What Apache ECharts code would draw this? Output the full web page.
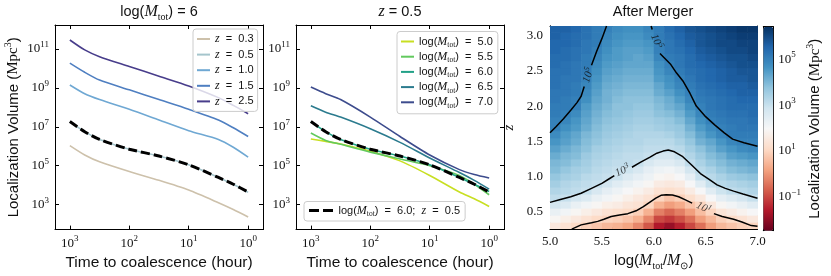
<!DOCTYPE html>
<html><head><meta charset="utf-8">
<script src="https://cdn.jsdelivr.net/npm/echarts@6/dist/echarts.min.js"></script>
<style>html,body{margin:0;padding:0;background:#fff}#c{width:831px;height:276px}</style>
</head><body><div id="c"></div>
<script>
const SANS = '"Liberation Sans", Arial, sans-serif';
const SERIF = '"Liberation Serif", "Times New Roman", serif';

// ---------------- data ----------------
// log10 of time to coalescence (hour)
const logTime = [3, 2.75, 2.5, 2, 1.5, 1, 0.5, 0.25, 0];
// panel 1: log(M_tot)=6, several redshifts ; values are log10(volume / Mpc^3)
const zNames = ['z = 0.3', 'z = 0.5', 'z = 1.0', 'z = 1.5', 'z = 2.5'];
const volZ03 = [6.03, 5.55, 5.2, 4.7, 4.25, 3.75, 3.1, 2.75, 2.37];
const volZ05 = [7.27, 6.75, 6.35, 5.85, 5.5, 5.05, 4.4, 4.05, 3.63];
const volZ10 = [9.15, 8.7, 8.4, 7.9, 7.35, 6.8, 6.35, 5.95, 5.44];
const volZ15 = [10.27, 9.8, 9.4, 8.9, 8.4, 7.9, 7.35, 6.95, 6.5];
const volZ25 = [11.46, 10.95, 10.6, 10.1, 9.6, 9.1, 8.5, 8.1, 7.67];
// reference curve log(M_tot)=6, z=0.5
const volRef = [7.27, 6.75, 6.35, 5.85, 5.5, 5.05, 4.4, 4.05, 3.65];
// panel 2: z=0.5, several masses
const mNames = ['5.0', '5.5', '6.0', '6.5', '7.0'];
const volM50 = [6.37, 6.25, 6.12, 5.75, 5.25, 4.5, 3.65, 3.3, 2.91];
const volM55 = [6.68, 6.3, 6.1, 5.7, 5.35, 5.0, 4.5, 4.05, 3.51];
const volM60 = [7.27, 6.75, 6.35, 5.85, 5.5, 5.05, 4.4, 4.05, 3.68];
const volM65 = [8.08, 7.75, 7.5, 6.9, 6.2, 5.4, 4.65, 4.25, 3.8];
const volM70 = [9.04, 8.7, 8.4, 7.5, 6.5, 5.55, 4.8, 4.55, 4.37];
// tick labels
const timeTicks = [0, 1, 2, 3];
const volTicks = [3, 5, 7, 9, 11];
const zTicks = [0.5, 1.0, 1.5, 2.0, 2.5, 3.0];
const zMinorTicks = [0.3, 0.4, 0.6, 0.7, 0.8, 0.9, 1.1, 1.2, 1.3, 1.4, 1.6, 1.7, 1.8, 1.9, 2.1, 2.2, 2.3, 2.4, 2.6, 2.7, 2.8, 2.9, 3.1];
const cbarTicks = [-1, 1, 3, 5];
// panel 3 heatmap: cell centres and log10(volume)
const massCenters = [5.05, 5.15, 5.25, 5.35, 5.45, 5.55, 5.65, 5.75, 5.85, 5.95, 6.05, 6.15, 6.25, 6.35, 6.45, 6.55, 6.65, 6.75, 6.85, 6.95];
const zCenters = [0.3, 0.4, 0.5, 0.6, 0.7, 0.8, 0.9, 1.0, 1.1, 1.2, 1.3, 1.4, 1.5, 1.6, 1.7, 1.8, 1.9, 2.0, 2.1, 2.2, 2.3, 2.4, 2.5, 2.6, 2.7, 2.8, 2.9, 3.0, 3.1];
const logVolGrid = [
[1.5,1.3,1.1,0.9,0.7,0.5,0.4,0.2,-0.2,-0.8,-1.6,-1.9,-1.5,-1.0,-0.5,0.1,0.5,0.7,0.9,1.0],
[1.9,1.7,1.5,1.3,1.1,1.0,0.9,0.7,0.4,-0.2,-1.0,-1.2,-0.9,-0.5,0.1,0.5,0.9,1.1,1.3,1.5],
[2.3,2.1,1.9,1.7,1.5,1.3,1.2,1.1,0.9,0.4,-0.3,-0.6,-0.3,0.1,0.6,1.0,1.4,1.6,1.8,2.0],
[2.8,2.6,2.3,2.1,1.9,1.7,1.6,1.4,1.3,1.0,0.4,0.1,0.3,0.7,1.0,1.5,1.9,2.1,2.3,2.5],
[3.1,3.0,2.8,2.6,2.3,2.1,1.9,1.7,1.5,1.3,1.0,0.7,0.9,1.2,1.5,2.0,2.4,2.6,2.8,3.0],
[3.3,3.2,3.1,3.0,2.7,2.4,2.2,2.0,1.8,1.6,1.3,1.2,1.3,1.6,2.0,2.5,2.9,3.1,3.2,3.3],
[3.5,3.3,3.2,3.1,3.0,2.8,2.5,2.3,2.1,1.9,1.6,1.5,1.6,2.0,2.5,3.0,3.2,3.3,3.4,3.5],
[3.7,3.5,3.4,3.2,3.1,3.0,2.9,2.6,2.4,2.2,1.9,1.8,2.0,2.4,3.0,3.2,3.4,3.6,3.7,3.8],
[3.9,3.7,3.5,3.4,3.2,3.1,3.0,2.9,2.7,2.4,2.2,2.1,2.3,2.8,3.2,3.4,3.7,3.9,4.0,4.1],
[4.0,3.9,3.7,3.5,3.3,3.2,3.1,3.1,3.0,2.7,2.5,2.5,2.7,3.1,3.4,3.7,3.9,4.1,4.2,4.3],
[4.2,4.0,3.9,3.6,3.4,3.3,3.2,3.1,3.1,3.0,2.8,2.8,3.0,3.3,3.6,3.9,4.1,4.4,4.5,4.6],
[4.4,4.2,4.0,3.8,3.5,3.4,3.3,3.2,3.2,3.1,3.1,3.1,3.2,3.5,3.8,4.1,4.4,4.6,4.8,4.9],
[4.6,4.4,4.2,3.9,3.7,3.5,3.4,3.3,3.3,3.2,3.2,3.2,3.4,3.7,4.1,4.3,4.6,4.9,5.0,5.0],
[4.8,4.5,4.3,4.0,3.8,3.6,3.5,3.4,3.3,3.3,3.3,3.4,3.6,3.9,4.3,4.6,4.9,5.1,5.1,5.1],
[5.0,4.7,4.5,4.2,3.9,3.7,3.6,3.5,3.4,3.4,3.5,3.6,3.7,4.1,4.5,4.8,5.0,5.1,5.2,5.2],
[5.0,4.9,4.6,4.3,4.0,3.8,3.7,3.6,3.5,3.5,3.6,3.7,3.9,4.3,4.7,5.0,5.1,5.2,5.2,5.3],
[5.1,5.0,4.8,4.4,4.1,3.9,3.8,3.7,3.6,3.6,3.8,3.9,4.1,4.5,4.9,5.1,5.2,5.3,5.3,5.4],
[5.1,5.1,5.0,4.5,4.2,4.0,3.8,3.8,3.7,3.7,3.9,4.1,4.3,4.7,5.0,5.2,5.3,5.4,5.4,5.4],
[5.2,5.1,5.0,4.7,4.3,4.1,3.9,3.8,3.8,3.8,4.0,4.2,4.5,4.9,5.1,5.2,5.3,5.4,5.5,5.5],
[5.2,5.2,5.1,4.8,4.4,4.1,4.0,3.9,3.9,3.9,4.2,4.4,4.7,5.0,5.2,5.3,5.4,5.5,5.6,5.6],
[5.3,5.2,5.1,4.9,4.5,4.2,4.1,4.0,4.0,4.0,4.3,4.6,4.9,5.1,5.3,5.4,5.5,5.6,5.6,5.7],
[5.3,5.2,5.2,5.0,4.6,4.3,4.2,4.1,4.1,4.1,4.5,4.7,5.0,5.2,5.4,5.5,5.6,5.7,5.7,5.8],
[5.3,5.3,5.2,5.1,4.7,4.4,4.3,4.2,4.2,4.2,4.6,4.9,5.1,5.3,5.4,5.5,5.6,5.7,5.8,5.8],
[5.4,5.3,5.2,5.1,4.8,4.5,4.4,4.3,4.3,4.3,4.7,5.0,5.2,5.4,5.5,5.6,5.7,5.8,5.9,5.9],
[5.4,5.4,5.3,5.1,4.9,4.6,4.5,4.4,4.3,4.4,4.9,5.1,5.2,5.4,5.6,5.7,5.8,5.9,5.9,6.0],
[5.5,5.4,5.3,5.2,5.0,4.7,4.5,4.4,4.4,4.5,5.0,5.2,5.3,5.5,5.7,5.8,5.9,6.0,6.0,6.1],
[5.5,5.5,5.4,5.2,5.1,4.8,4.6,4.5,4.5,4.6,5.0,5.2,5.4,5.6,5.8,5.9,6.0,6.0,6.1,6.1],
[5.6,5.5,5.4,5.3,5.1,4.9,4.7,4.6,4.6,4.8,5.1,5.3,5.5,5.7,5.8,5.9,6.0,6.1,6.2,6.2],
[5.6,5.6,5.5,5.3,5.1,5.0,4.8,4.7,4.7,4.9,5.1,5.4,5.6,5.8,5.9,6.0,6.1,6.2,6.3,6.3]
];
// contour lines [log M, z]
const contour5LeftA = [[5.0,1.62],[5.06,1.71],[5.13,1.82],[5.2,1.94],[5.26,2.05],[5.30,2.14],[5.33,2.28]];
const contour5LeftB = [[5.40,2.58],[5.45,2.78],[5.50,2.96],[5.545,3.14]];
const contour5RightA = [[5.975,3.14],[5.985,3.09]];
const contour5RightB = [[6.06,2.75],[6.16,2.60],[6.22,2.47],[6.285,2.35],[6.35,2.18],[6.41,2.0],[6.5,1.85],[6.59,1.73],[6.68,1.62],[6.76,1.53],[6.87,1.48],[7.0,1.43]];
const contour3A = [[5.0,0.63],[5.1,0.67],[5.2,0.71],[5.3,0.76],[5.4,0.83],[5.5,0.90],[5.575,0.97],[5.62,1.01]];
const contour3B = [[5.79,1.13],[5.87,1.20],[5.96,1.27],[6.03,1.33],[6.09,1.36],[6.14,1.375],[6.2,1.35],[6.28,1.28],[6.36,1.17],[6.45,1.04],[6.53,0.96],[6.61,0.88],[6.69,0.83],[6.77,0.79],[6.86,0.75],[7.0,0.69]];
const contour1A = [[5.21,0.25],[5.3,0.31],[5.4,0.34],[5.46,0.36],[5.52,0.39],[5.59,0.43],[5.67,0.45],[5.75,0.47],[5.83,0.51],[5.9,0.57],[5.96,0.63],[6.02,0.69],[6.07,0.73],[6.12,0.74],[6.18,0.735],[6.24,0.71],[6.3,0.67],[6.37,0.62]];
const contour1B = [[6.58,0.47],[6.66,0.43],[6.77,0.39],[6.85,0.35],[6.94,0.30],[7.0,0.29]];
const contourLabelPos = [[5.37,2.44],[6.025,2.92],[5.70,1.08],[6.48,0.55]];
const contourLabelExp = ['5', '5', '3', '1'];
const contourLabelAngle = [72, -66, 25, -26];

// ---------------- styles ----------------
const zColors = ['#cdc1ab', '#a5c5cc', '#6fa8d3', '#4f7fc1', '#483d8b'];
const mColors = ['#c8df22', '#62c95e', '#22a187', '#2b7b8e', '#3d4c8d'];
const rdbu = ['#67001f','#b2182b','#d6604d','#f4a582','#fddbc7','#f7f7f7','#d1e5f0','#92c5de','#4393c3','#2166ac','#053061'];

const supRich = {
  b: {fontFamily: SERIF, fontSize: 13, lineHeight: 18, color: '#111'},
  s: {fontFamily: SERIF, fontSize: 9, lineHeight: 9, verticalAlign: 'top', color: '#111'}
};
function logLabel(v) { return '{b|10}{s|' + (v < 0 ? '\u2212' + (-v) : v) + '}'; }
const lineAx = {show: true, onZero: false, lineStyle: {color: '#000', width: 1}};
const tickSt = {color: '#000', width: 1};

function ax(extra) {
  return Object.assign({type: 'value', splitLine: {show: false}, axisLine: lineAx}, extra);
}

const xAxis = [
  ax({gridIndex: 0, position: 'bottom', min: -0.25, max: 3.25, inverse: true,
      axisTick: {inside: true, length: 4, customValues: timeTicks, lineStyle: tickSt},
      axisLabel: {customValues: timeTicks, formatter: logLabel, rich: supRich, margin: 5},
      name: 'Time to coalescence (hour)', nameLocation: 'middle', nameGap: 23,
      nameTextStyle: {fontFamily: SANS, fontSize: 15.5, color: '#111'}}),
  ax({gridIndex: 0, position: 'top', min: -0.25, max: 3.25, inverse: true,
      axisTick: {inside: true, length: 4, customValues: timeTicks, lineStyle: tickSt}, axisLabel: {show: false}}),
  ax({gridIndex: 1, position: 'bottom', min: -0.25, max: 3.25, inverse: true,
      axisTick: {inside: true, length: 4, customValues: timeTicks, lineStyle: tickSt},
      axisLabel: {customValues: timeTicks, formatter: logLabel, rich: supRich, margin: 5},
      name: 'Time to coalescence (hour)', nameLocation: 'middle', nameGap: 23,
      nameTextStyle: {fontFamily: SANS, fontSize: 15.5, color: '#111'}}),
  ax({gridIndex: 1, position: 'top', min: -0.25, max: 3.25, inverse: true,
      axisTick: {inside: true, length: 4, customValues: timeTicks, lineStyle: tickSt}, axisLabel: {show: false}}),
  ax({gridIndex: 2, position: 'bottom', min: 5, max: 7, interval: 0.5,
      axisTick: {inside: true, length: 4, lineStyle: tickSt},
      minorTick: {show: true, splitNumber: 5, length: 2, lineStyle: tickSt},
      axisLabel: {formatter: v => v.toFixed(1), fontFamily: SERIF, fontSize: 13, color: '#111', margin: 6},
      name: '{s|log(}{mi|M}{sub|tot}{s|/}{mi|M}{sub|\u2299}{s|)}', nameLocation: 'middle', nameGap: 21,
      nameTextStyle: {fontFamily: SANS, fontSize: 15, color: '#111', rich: {
        s: {fontFamily: SANS, fontSize: 15, lineHeight: 20, color: '#111'},
        mi: {fontFamily: SERIF, fontStyle: 'italic', fontSize: 16, lineHeight: 20, color: '#111'},
        sub: {fontFamily: SERIF, fontSize: 10, lineHeight: 11, verticalAlign: 'bottom', color: '#111'}}}}),
  ax({gridIndex: 2, position: 'top', min: 5, max: 7, interval: 0.5,
      axisTick: {inside: true, length: 4, lineStyle: tickSt}, axisLabel: {show: false}}),
  ax({gridIndex: 3, position: 'bottom', min: 0, max: 1, axisTick: {show: false}, axisLabel: {show: false}}),
  ax({gridIndex: 3, position: 'top', min: 0, max: 1, axisTick: {show: false}, axisLabel: {show: false}})
];

const volNameRich = {
  m: {fontFamily: SERIF, fontSize: 15, lineHeight: 20, color: '#111'},
  s: {fontFamily: SERIF, fontSize: 10, lineHeight: 10, verticalAlign: 'top', color: '#111'}
};
const yAxis = [
  ax({gridIndex: 0, position: 'left', min: 1.72, max: 12.23,
      axisTick: {inside: true, length: 4, customValues: volTicks, lineStyle: tickSt},
      axisLabel: {customValues: volTicks, formatter: logLabel, rich: supRich, margin: 6},
      name: 'Localization Volume ({m|Mpc}{s|3})', nameLocation: 'middle', nameGap: 30, nameRotate: 90,
      nameTextStyle: {fontFamily: SANS, fontSize: 15, lineHeight: 20, color: '#111', rich: volNameRich}}),
  ax({gridIndex: 0, position: 'right', min: 1.72, max: 12.23,
      axisTick: {inside: true, length: 4, customValues: volTicks, lineStyle: tickSt}, axisLabel: {show: false}}),
  ax({gridIndex: 1, position: 'left', min: 1.72, max: 12.23,
      axisTick: {inside: true, length: 4, customValues: volTicks, lineStyle: tickSt},
      axisLabel: {customValues: volTicks, formatter: logLabel, rich: supRich, margin: 6}}),
  ax({gridIndex: 1, position: 'right', min: 1.72, max: 12.23,
      axisTick: {inside: true, length: 4, customValues: volTicks, lineStyle: tickSt}, axisLabel: {show: false}}),
  ax({gridIndex: 2, position: 'left', min: 0.25, max: 3.14,
      axisTick: {inside: true, length: 4, customValues: zTicks, lineStyle: tickSt},
      axisLabel: {customValues: zTicks, formatter: v => v.toFixed(1), fontFamily: SERIF, fontSize: 13, color: '#111', margin: 7},
      name: 'z', nameLocation: 'middle', nameGap: 33, nameRotate: 90,
      nameTextStyle: {fontFamily: SERIF, fontStyle: 'italic', fontSize: 15, color: '#111'}}),
  ax({gridIndex: 2, position: 'right', min: 0.25, max: 3.14,
      axisTick: {inside: true, length: 4, customValues: zTicks, lineStyle: tickSt}, axisLabel: {show: false}}),
  ax({gridIndex: 2, position: 'left', min: 0.25, max: 3.14,
      axisTick: {inside: true, length: 2, customValues: zMinorTicks, lineStyle: tickSt}, axisLabel: {show: false}}),
  ax({gridIndex: 3, position: 'left', min: -2.48, max: 6.42, axisTick: {show: false}, axisLabel: {show: false}}),
  ax({gridIndex: 3, position: 'right', min: -2.48, max: 6.42,
      axisTick: {inside: true, length: 3, customValues: cbarTicks, lineStyle: tickSt},
      axisLabel: {customValues: cbarTicks, formatter: logLabel, rich: supRich, margin: 5},
      name: 'Localization Volume ({m|Mpc}{s|3})', nameLocation: 'middle', nameGap: 32, nameRotate: 90,
      nameTextStyle: {fontFamily: SANS, fontSize: 15, lineHeight: 20, color: '#111', rich: volNameRich}})
];

// ---------------- series ----------------
const series = [];
function pairs(vals) { return logTime.map((t, i) => [t, vals[i]]); }
[volZ03, volZ05, volZ10, volZ15, volZ25].forEach((v, i) => {
  series.push({type: 'line', name: zNames[i], xAxisIndex: 0, yAxisIndex: 0, data: pairs(v),
    showSymbol: false, smooth: 0.25, color: zColors[i], lineStyle: {color: zColors[i], width: 1.6}, z: 2, silent: true});
});
series.push({type: 'line', name: 'ref1', xAxisIndex: 0, yAxisIndex: 0, data: pairs(volRef),
  showSymbol: false, smooth: 0.25, color: '#000', lineStyle: {color: '#000', width: 3, type: [9, 4]}, z: 3, silent: true});
[volM50, volM55, volM60, volM65, volM70].forEach((v, i) => {
  series.push({type: 'line', name: 'logM = ' + mNames[i], xAxisIndex: 2, yAxisIndex: 2, data: pairs(v),
    showSymbol: false, smooth: 0.25, color: mColors[i], lineStyle: {color: mColors[i], width: 1.6}, z: 2, silent: true});
});
series.push({type: 'line', name: 'refLegend', xAxisIndex: 2, yAxisIndex: 2, data: pairs(volRef),
  showSymbol: false, smooth: 0.25, color: '#000', itemStyle: {color: '#000'}, lineStyle: {color: '#000', width: 3, type: [9, 4]}, z: 3, silent: true});

const heatData = [];
zCenters.forEach((zc, i) => massCenters.forEach((mc, j) => heatData.push([mc, zc, logVolGrid[i][j]])));
const halfX = (massCenters[1] - massCenters[0]) / 2;
const halfZ = (zCenters[1] - zCenters[0]) / 2;
const heatIndex = series.length;
series.push({type: 'custom', xAxisIndex: 4, yAxisIndex: 4, data: heatData, clip: true, silent: true, z: 1,
  encode: {x: 0, y: 1},
  renderItem: function (params, api) {
    const xc = api.value(0), zc = api.value(1);
    const p0 = api.coord([xc - halfX, zc + halfZ]);
    const p1 = api.coord([xc + halfX, zc - halfZ]);
    return {type: 'rect', shape: {x: p0[0], y: p0[1], width: p1[0] - p0[0] + 0.6, height: p1[1] - p0[1] + 0.6},
      style: {fill: api.visual('color')}};
  }});
[contour5LeftA, contour5LeftB, contour5RightA, contour5RightB, contour3A, contour3B, contour1A, contour1B].forEach(c => {
  series.push({type: 'line', xAxisIndex: 4, yAxisIndex: 4, data: c, showSymbol: false, silent: true,
    lineStyle: {color: '#000', width: 1.5}, z: 4});
});
series.push({type: 'scatter', xAxisIndex: 4, yAxisIndex: 4, symbolSize: 0, silent: true, z: 5,
  data: contourLabelPos.map((p, i) => ({value: p, label: {show: true, position: 'inside', rotate: contourLabelAngle[i],
    formatter: '{a|10}{b|' + contourLabelExp[i] + '}',
    rich: {a: {fontFamily: SERIF, fontStyle: 'italic', fontSize: 11, lineHeight: 14, color: '#111'},
           b: {fontFamily: SERIF, fontStyle: 'italic', fontSize: 8, lineHeight: 8, verticalAlign: 'top', color: '#111'}}}}))
});

// ---------------- legends ----------------
const legRichZ = {
  i: {fontFamily: SERIF, fontStyle: 'italic', fontSize: 12, color: '#111'},
  t: {fontFamily: SANS, fontSize: 11, color: '#111'}
};
const legRichM = {
  t: {fontFamily: SANS, fontSize: 11, lineHeight: 15, color: '#111'},
  mi: {fontFamily: SERIF, fontStyle: 'italic', fontSize: 12, lineHeight: 15, color: '#111'},
  sub: {fontFamily: SERIF, fontSize: 7.5, lineHeight: 8, verticalAlign: 'bottom', color: '#111'},
  i: {fontFamily: SERIF, fontStyle: 'italic', fontSize: 12, lineHeight: 15, color: '#111'}
};
const legBox = {backgroundColor: 'rgba(255,255,255,0.8)', borderColor: '#cccccc', borderWidth: 1, borderRadius: 3,
  selectedMode: false, orient: 'vertical', icon: 'rect', itemWidth: 13, itemHeight: 2};
const legend = [
  Object.assign({}, legBox, {data: zNames, left: 193, top: 29, itemGap: 3.6, padding: [4, 4, 4, 4],
    formatter: n => '{i|z}{t|  =  ' + n.split('= ')[1] + '}', textStyle: {rich: legRichZ}}),
  Object.assign({}, legBox, {data: mNames.map(m => 'logM = ' + m), left: 397, top: 31.5, itemGap: 1.7, padding: [4, 5, 4, 4],
    formatter: n => '{t|log(}{mi|M}{sub|tot}{t|)  =  ' + n.split('= ')[1] + '}', textStyle: {rich: legRichM}}),
  Object.assign({}, legBox, {data: ['refLegend'], left: 304, top: 201.5, orient: 'horizontal', itemWidth: 25, itemHeight: 3,
    icon: 'path://M0,0H10V3H0Z M14,0H24V3H14Z', padding: [3, 5, 3, 5],
    formatter: () => '{t|log(}{mi|M}{sub|tot}{t|)  =  6.0;  }{i|z}{t|  =  0.5}', textStyle: {rich: legRichM}})
];

// ---------------- titles ----------------
const titleRich = {
  s: {fontFamily: SANS, fontSize: 14.5, lineHeight: 20, fill: '#111', color: '#111'},
  mi: {fontFamily: SERIF, fontStyle: 'italic', fontSize: 16, lineHeight: 20, fill: '#111', color: '#111'},
  sub: {fontFamily: SERIF, fontSize: 10, lineHeight: 11, verticalAlign: 'bottom', fill: '#111', color: '#111'}
};
function titleText(x, txt) {
  return {type: 'text', x: x, y: 12, silent: true,
    style: {text: txt, align: 'center', verticalAlign: 'middle', rich: titleRich, fill: '#111',
      font: '14.5px ' + SANS}};
}
const graphic = [
  titleText(159, '{s|log(}{mi|M}{sub|tot}{s|) = 6}'),
  titleText(400, '{mi|z}{s| = 0.5}'),
  titleText(653, '{s|After Merger}')
];

const option = {
  animation: false,
  grid: [
    {left: 55, top: 25, width: 208, height: 205},
    {left: 296, top: 25, width: 208, height: 205},
    {left: 550, top: 26, width: 207.5, height: 204.7},
    {left: 763.3, top: 26.7, width: 10, height: 204}
  ],
  xAxis: xAxis,
  yAxis: yAxis,
  visualMap: [{type: 'continuous', min: -2.48, max: 6.42, dimension: 2, seriesIndex: heatIndex,
    inRange: {color: rdbu}, orient: 'vertical', left: 763.3, top: 26.7, itemWidth: 10, itemHeight: 204,
    calculable: false, realtime: false, hoverLink: false, text: null, showLabel: false, padding: 0}],
  legend: legend,
  graphic: graphic,
  series: series
};
const chart = echarts.init(document.getElementById('c'), null, {renderer: 'canvas'});
chart.setOption(option);
</script></body></html>
